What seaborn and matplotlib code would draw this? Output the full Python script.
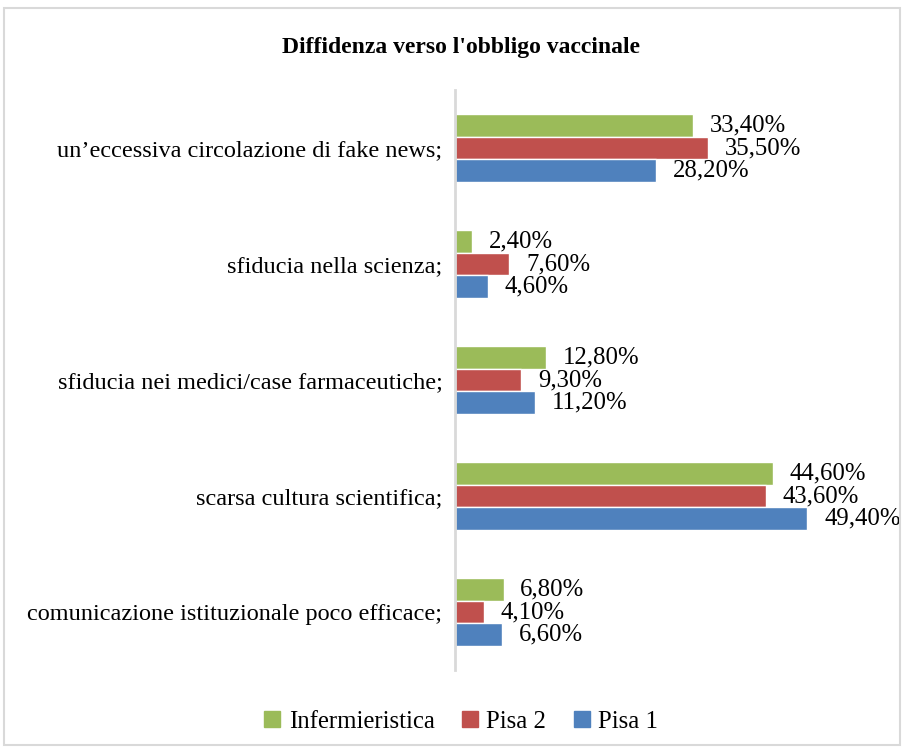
import pandas as pd
import matplotlib.pyplot as plt
import seaborn as sns
from matplotlib.patches import Rectangle

categories = ["un\u2019eccessiva circolazione di fake news;",
              "sfiducia nella scienza;",
              "sfiducia nei medici/case farmaceutiche;",
              "scarsa cultura scientifica;",
              "comunicazione istituzionale poco efficace;"]
infermieristica = [33.4, 2.4, 12.8, 44.6, 6.8]
pisa2 = [35.5, 7.6, 9.3, 43.6, 4.1]
pisa1 = [28.2, 4.6, 11.2, 49.4, 6.6]
series = ["Infermieristica", "Pisa 2", "Pisa 1"]
colors = ["#9BBB59", "#C0504D", "#4F81BD"]

df = pd.DataFrame({
    "categoria": categories * 3,
    "gruppo": [s for s in series for _ in categories],
    "valore": infermieristica + pisa2 + pisa1,
})

sns.set_style("white")
plt.rcParams['font.family'] = ['Liberation Serif', 'DejaVu Serif']
plt.rcParams['text.color'] = 'black'
plt.rcParams['ytick.color'] = 'black'
plt.rcParams['ytick.labelcolor'] = 'black'

fig = plt.figure(figsize=(9.04, 7.5), dpi=100)
ax = fig.add_axes([455 / 904, 80 / 750, 428 / 904, 580 / 750])

sns.barplot(data=df, y="categoria", x="valore", hue="gruppo", order=categories,
            hue_order=series, palette=colors, orient="h", width=0.58,
            saturation=1, ax=ax, legend=False)

for cont in ax.containers:
    ax.bar_label(cont, labels=[f"{v:.2f}%".replace(".", ",") for v in cont.datavalues],
                 padding=12, fontsize=17.8, color="black")

ax.set_xlim(0, 60)
ax.set_ylim(4.5, -0.5)
ax.set_xlabel("")
ax.set_ylabel("")
ax.set_xticks([])
ax.tick_params(axis="y", length=0, labelsize=17.5, pad=9, labelcolor="black")
for s in ["top", "right", "bottom"]:
    ax.spines[s].set_visible(False)
ax.spines["left"].set_color("#d9d9d9")
ax.spines["left"].set_linewidth(2)

fig.text(0.51, 0.937, "Diffidenza verso l'obbligo vaccinale", ha="center", va="center",
         fontsize=17, fontweight="bold", color="black")

handles = [Rectangle((0, 0), 1, 1, color=c) for c in colors]
fig.legend(handles, series, loc="center", bbox_to_anchor=(0.51, 0.038), ncol=3,
           frameon=False, fontsize=17.8, handlelength=0.65, handleheight=0.65,
           handletextpad=0.35, columnspacing=1.1, labelcolor="black")

fig.patches.append(Rectangle((4 / 904, 5 / 750), 896 / 904, 737 / 750, transform=fig.transFigure,
                             fill=False, edgecolor="#d9d9d9", linewidth=1.5))

plt.savefig("out.png", dpi=100)
